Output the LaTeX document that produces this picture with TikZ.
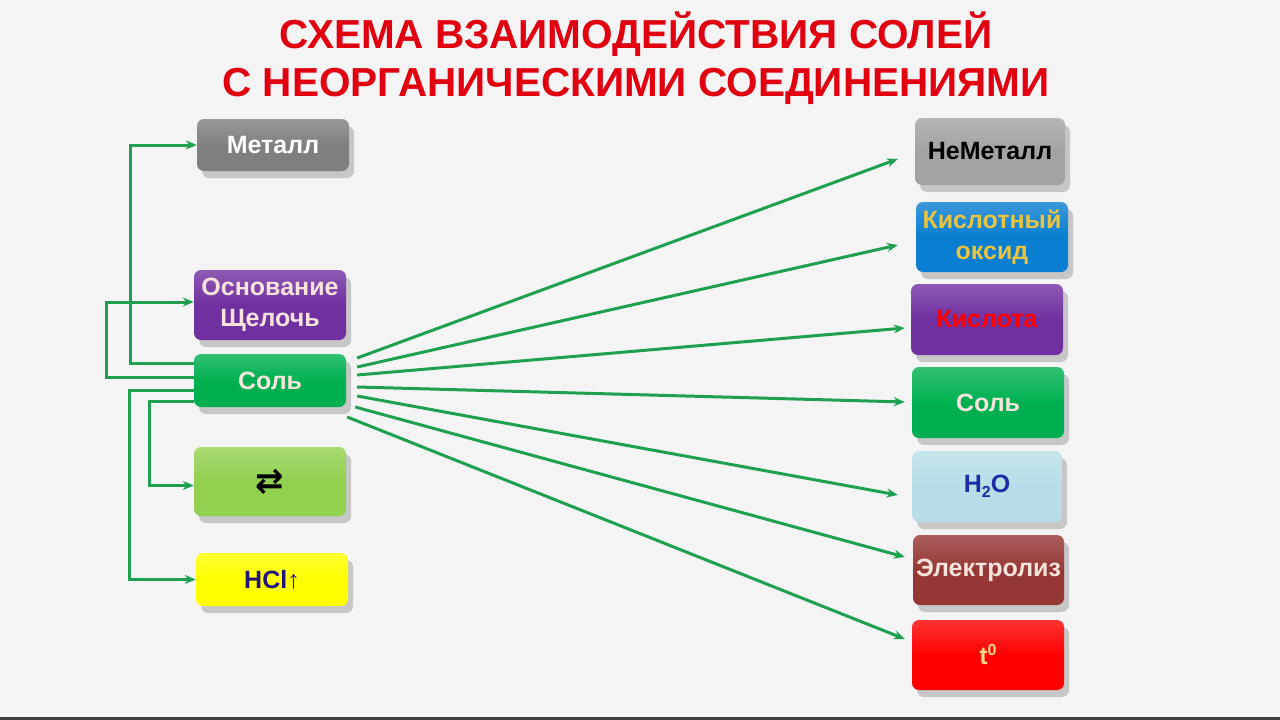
\documentclass[tikz,border=0pt]{standalone}
\usepackage{fontspec}
\setmainfont{Liberation Sans}
\newfontfamily\djv{DejaVu Sans}
\usetikzlibrary{arrows.meta,shadows}
\definecolor{bg}{HTML}{F4F4F4}
\definecolor{titlered}{HTML}{E00010}
\definecolor{cgrayA}{HTML}{7F7F7F}
\definecolor{cgrayB}{HTML}{A3A3A3}
\definecolor{cpurple}{HTML}{7030A0}
\definecolor{cgreen}{HTML}{00B050}
\definecolor{clgreen}{HTML}{92D050}
\definecolor{cyellow}{HTML}{FFFF00}
\definecolor{cblue}{HTML}{0A7ED0}
\definecolor{clblue}{HTML}{B7DEE8}
\definecolor{cdred}{HTML}{953735}
\definecolor{cred}{HTML}{FF0000}
\definecolor{tcream}{HTML}{F8E4DC}
\definecolor{tgold}{HTML}{E8C440}
\definecolor{th2o}{HTML}{1E2CA8}
\definecolor{thcl}{HTML}{22147A}
\definecolor{tt0}{HTML}{FFD88A}
\definecolor{lgreen}{HTML}{1FA050}
\begin{document}
\begin{tikzpicture}[x=1pt,y=-1pt,
  box/.style={rounded corners=7pt, inner sep=0pt, align=center,
    top color=#1!80!white, bottom color=#1, middle color=#1,
    font=\bfseries\fontsize{25}{31}\selectfont,
    drop shadow={shadow xshift=5pt, shadow yshift=-7pt, opacity=0.18, fill=black}},
  conn/.style={draw=lgreen, line width=3pt, -{Stealth[length=11pt,width=9pt]}},
  ttl/.style={anchor=base, text=titlered, font=\bfseries\fontsize{40.5}{48}\selectfont}]
\useasboundingbox (0,0) rectangle (1280,720);
\fill[bg] (0,0) rectangle (1280,720);
\fill[black!75] (0,717) rectangle (1280,720);

\node[ttl] (t1) at (636,48) {СХЕМА ВЗАИМОДЕЙСТВИЯ СОЛЕЙ};
\node[ttl] (t2) at (636,96) {С НЕОРГАНИЧЕСКИМИ СОЕДИНЕНИЯМИ};

% left column
\node[box=cgrayA, minimum width=152pt, minimum height=52pt, text=white] (metall) at (273,145) {Металл};
\node[box=cpurple, minimum width=152pt, minimum height=70pt, text=tcream] (osn) at (270,305) {Основание\\Щелочь};
\node[box=cgreen, minimum width=152pt, minimum height=53pt, text=tcream] (solL) at (270,380.5) {Соль};
\node[box=clgreen, minimum width=152pt, minimum height=69pt, text=black] (eq) at (270,481.5) {{\djv\fontsize{34}{34}\selectfont ⇄}};
\node[box=cyellow, minimum width=152pt, minimum height=53pt, text=thcl] (hcl) at (272,579.5) {HCl↑};

% right column
\node[box=cgrayB, minimum width=150pt, minimum height=67pt, text=black] (nemet) at (990,151.5) {НеМеталл};
\node[box=cblue, minimum width=152pt, minimum height=70pt, text=tgold] (oksid) at (992,237) {Кислотный\\оксид};
\node[box=cpurple, minimum width=152pt, minimum height=71pt, text=red] (kisl) at (987,319.5) {Кислота};
\node[box=cgreen, minimum width=152pt, minimum height=71pt, text=tcream] (solR) at (988,402.5) {Соль};
\node[box=clblue, minimum width=150pt, minimum height=71pt, text=th2o] (h2o) at (987,486.5) {H\raisebox{-5pt}{\fontsize{16}{16}\selectfont 2}O};
\node[box=cdred, minimum width=151pt, minimum height=70pt, text=tcream] (elek) at (988.5,570) {Электролиз};
\node[box=cred, minimum width=152pt, minimum height=70pt, text=tt0] (t0) at (988,655) {t\raisebox{9pt}{\fontsize{16}{16}\selectfont 0}};

% left connectors
\draw[conn] ([yshift=17.5pt]solL.west) -- ++(-63,0) |- (metall.west);
\draw[conn] ([yshift=3.5pt]solL.west) -- ++(-87,0) |- ([yshift=3pt]osn.west);
\draw[conn] ([yshift=-9.5pt]solL.west) -- ++(-64,0) |- (hcl.west);
\draw[conn] ([yshift=-20.5pt]solL.west) -- ++(-44,0) |- ([yshift=-4pt]eq.west);

% fan connectors
\draw[conn] ([xshift=11pt,yshift=22.5pt]solL.east) -- ([xshift=-17pt,yshift=-7.5pt]nemet.west);
\draw[conn] ([xshift=11pt,yshift=13.5pt]solL.east) -- ([xshift=-18pt,yshift=-8pt]oksid.west);
\draw[conn] ([xshift=11pt,yshift=5.5pt]solL.east) -- ([xshift=-6pt,yshift=-8.5pt]kisl.west);
\draw[conn] ([xshift=11pt,yshift=-6.5pt]solL.east) -- ([xshift=-7pt,yshift=0.5pt]solR.west);
\draw[conn] ([xshift=11pt,yshift=-15.5pt]solL.east) -- ([xshift=-14pt,yshift=-8.5pt]h2o.west);
\draw[conn] ([xshift=9pt,yshift=-26.5pt]solL.east) -- ([xshift=-8pt,yshift=13pt]elek.west);
\draw[conn] ([xshift=1pt,yshift=-36.5pt]solL.east) -- ([xshift=-7pt,yshift=16pt]t0.west);
\end{tikzpicture}
\end{document}
